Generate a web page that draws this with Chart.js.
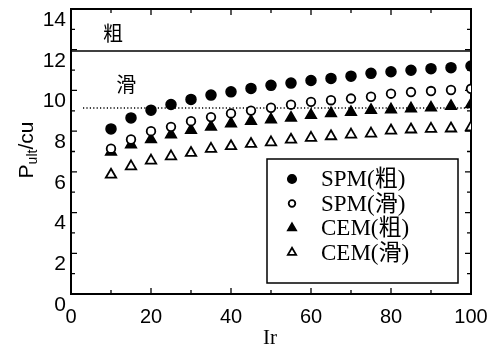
<!DOCTYPE html>
<html>
<head>
<meta charset="utf-8">
<script src="https://cdn.jsdelivr.net/npm/chart.js@4/dist/chart.umd.min.js"></script>
<style>
  html, body { margin: 0; padding: 0; background: #fff; }
  #wrap { width: 501px; height: 352px; }
</style>
</head>
<body>
<div id="wrap"><canvas id="c" width="501" height="352"></canvas></div>
<script>
// Rigidity index Ir and normalised ultimate pressure P_ult/cu
const irValues   = [10, 15, 20, 25, 30, 35, 40, 45, 50, 55, 60, 65, 70, 75, 80, 85, 90, 95, 100];
const spmRough   = [8.11, 8.65, 9.03, 9.31, 9.56, 9.77, 9.93, 10.10, 10.25, 10.36, 10.49, 10.59, 10.70, 10.84, 10.92, 10.99, 11.07, 11.12, 11.20];
const spmSmooth  = [7.14, 7.59, 8.00, 8.21, 8.49, 8.69, 8.87, 9.01, 9.15, 9.30, 9.44, 9.52, 9.60, 9.69, 9.84, 9.92, 9.97, 10.02, 10.08];
const cemRough   = [6.98, 7.34, 7.59, 7.83, 8.05, 8.21, 8.37, 8.49, 8.57, 8.65, 8.78, 8.87, 8.93, 9.03, 9.06, 9.11, 9.15, 9.23, 9.31];
const cemSmooth  = [5.86, 6.27, 6.55, 6.76, 6.93, 7.13, 7.26, 7.37, 7.45, 7.58, 7.67, 7.75, 7.83, 7.88, 8.03, 8.08, 8.11, 8.13, 8.19];

// Plasticity limits for rough / smooth pile interface
const roughLimit  = 11.94;
const smoothLimit = 9.14;
const roughLineX  = [0, 100];
const smoothLineX = [3, 100];

const seriesNames = ['SPM(粗)', 'SPM(滑)', 'CEM(粗)', 'CEM(滑)'];
const noteTexts = ['粗', '滑'];
const noteX     = [10.5, 13.8];
const noteY     = [12.8, 10.28];

const xTickValues = [0, 20, 40, 60, 80, 100];
const yTickValues = [0, 2, 4, 6, 8, 10, 12, 14];

const toPts = (xs, ys) => xs.map((v, i) => ({ x: v, y: ys[i] }));
const SANS = '"Liberation Sans", Arial, sans-serif';
const SERIF = '"Liberation Serif", "Times New Roman", "Noto Sans CJK SC", serif';
const CJK = '"Noto Sans CJK SC", sans-serif';

const markerSets = [
  { data: spmRough,  pointStyle: 'circle',   radius: 5,   fill: '#000', border: 1.5, legendRadius: 4.3 },
  { data: spmSmooth, pointStyle: 'circle',   radius: 4.3, fill: '#fff', border: 1.8, legendRadius: 3.3 },
  { data: cemRough,  pointStyle: 'triangle', radius: 6.2, fill: '#000', border: 1.5, legendRadius: 5 },
  { data: cemSmooth, pointStyle: 'triangle', radius: 6,   fill: '#fff', border: 1.8, legendRadius: 4.8 }
];

const datasets = markerSets.map((m, i) => ({
  label: seriesNames[i],
  data: toPts(irValues, m.data),
  showLine: false,
  pointStyle: m.pointStyle,
  pointRadius: m.radius,
  pointBackgroundColor: m.fill,
  pointBorderColor: '#000',
  pointBorderWidth: m.border,
  legendRadius: m.legendRadius,
  inLegend: true
}));

datasets.push({
  label: 'rough limit',
  data: roughLineX.map(v => ({ x: v, y: roughLimit })),
  showLine: true, borderColor: '#000', borderWidth: 1.6, pointRadius: 0, inLegend: false
});
datasets.push({
  label: 'smooth limit',
  data: smoothLineX.map(v => ({ x: v, y: smoothLimit })),
  showLine: true, borderColor: '#000', borderWidth: 1.4, borderDash: [1.2, 2.2], pointRadius: 0, inLegend: false
});

// Box frame with inward ticks on all four sides
const framePlugin = {
  id: 'frame',
  beforeDatasetsDraw(chart) {
    const { ctx, chartArea: a, scales: { x, y } } = chart;
    ctx.save();
    ctx.strokeStyle = '#000';
    ctx.lineWidth = 2;
    ctx.strokeRect(a.left, a.top, a.right - a.left, a.bottom - a.top);
    ctx.lineWidth = 1.3;
    ctx.beginPath();
    for (let v = 0; v <= 100; v += 10) {
      const px = x.getPixelForValue(v);
      const len = v % 20 === 0 ? 6 : 4;
      ctx.moveTo(px, a.bottom); ctx.lineTo(px, a.bottom - len);
      ctx.moveTo(px, a.top); ctx.lineTo(px, a.top + len);
    }
    for (let v = 0; v <= 14; v += 1) {
      const py = y.getPixelForValue(v);
      const len = v % 2 === 0 ? 6 : 4;
      ctx.moveTo(a.left, py); ctx.lineTo(a.left + len, py);
      ctx.moveTo(a.right, py); ctx.lineTo(a.right - len, py);
    }
    ctx.stroke();
    ctx.restore();
  }
};

// Text notes, boxed legend and axis titles
const overlayPlugin = {
  id: 'overlay',
  afterDraw(chart) {
    const { ctx, scales: { x, y } } = chart;
    ctx.save();
    ctx.fillStyle = '#000';
    ctx.textAlign = 'center';
    ctx.textBaseline = 'middle';
    ctx.font = '20px ' + CJK;
    noteTexts.forEach((t, i) => ctx.fillText(t, x.getPixelForValue(noteX[i]), y.getPixelForValue(noteY[i])));

    // legend
    const lx = 267, ly = 159, lw = 191, lh = 124;
    ctx.fillStyle = '#fff';
    ctx.fillRect(lx, ly, lw, lh);
    ctx.strokeStyle = '#000';
    ctx.lineWidth = 1.5;
    ctx.strokeRect(lx, ly, lw, lh);
    const rowY0 = 179, rowStep = 24.5;
    chart.data.datasets.filter(d => d.inLegend).forEach((d, i) => {
      const cy = rowY0 + i * rowStep;
      ctx.fillStyle = d.pointBackgroundColor;
      ctx.strokeStyle = '#000';
      ctx.lineWidth = d.pointBorderWidth;
      Chart.helpers.drawPoint(ctx, { pointStyle: d.pointStyle, radius: d.legendRadius, rotation: 0, borderWidth: d.pointBorderWidth }, 292, cy);
      ctx.fillStyle = '#000';
      ctx.textAlign = 'left';
      ctx.font = '23px ' + SERIF;
      ctx.fillText(d.label, 321, cy + 1);
    });

    // x title
    ctx.textAlign = 'center';
    ctx.font = '21px ' + SERIF;
    ctx.fillText('Ir', 270, 338);

    // y title with subscript
    ctx.translate(26, 150);
    ctx.rotate(-Math.PI / 2);
    const big = '21px ' + SANS, small = '14px ' + SANS;
    ctx.font = big; const wP = ctx.measureText('P').width; const wC = ctx.measureText('/cu').width;
    ctx.font = small; const wS = ctx.measureText('ult').width;
    let sx = -(wP + wS + wC) / 2;
    ctx.textAlign = 'left';
    ctx.textBaseline = 'alphabetic';
    ctx.font = big; ctx.fillText('P', sx, 7); sx += wP;
    ctx.font = small; ctx.fillText('ult', sx, 11); sx += wS;
    ctx.font = big; ctx.fillText('/cu', sx, 7);
    ctx.restore();
  }
};

new Chart(document.getElementById('c'), {
  type: 'scatter',
  data: { datasets },
  options: {
    responsive: false,
    animation: false,
    devicePixelRatio: 1,
    layout: { padding: { top: 9, right: 30, left: 0, bottom: 0 } },
    plugins: { legend: { display: false }, tooltip: { enabled: false } },
    scales: {
      x: {
        type: 'linear', min: 0, max: 100,
        grid: { display: false, drawTicks: false },
        border: { display: false },
        afterBuildTicks: s => { s.ticks = xTickValues.map(v => ({ value: v })); },
        afterFit: s => { s.height = 58; s.paddingLeft = 0; s.paddingRight = 0; },
        ticks: { color: '#000', padding: 11, maxRotation: 0, font: { family: SANS, size: 20 } }
      },
      y: {
        type: 'linear', min: 0, max: 14,
        grid: { display: false, drawTicks: false },
        border: { display: false },
        afterBuildTicks: s => { s.ticks = yTickValues.map(v => ({ value: v })); },
        afterFit: s => { s.width = 71; s.paddingTop = 0; s.paddingBottom = 0; },
        ticks: { color: '#000', padding: 5, labelOffset: 11, font: { family: SANS, size: 21 } }
      }
    }
  },
  plugins: [framePlugin, overlayPlugin]
});
</script>
</body>
</html>
